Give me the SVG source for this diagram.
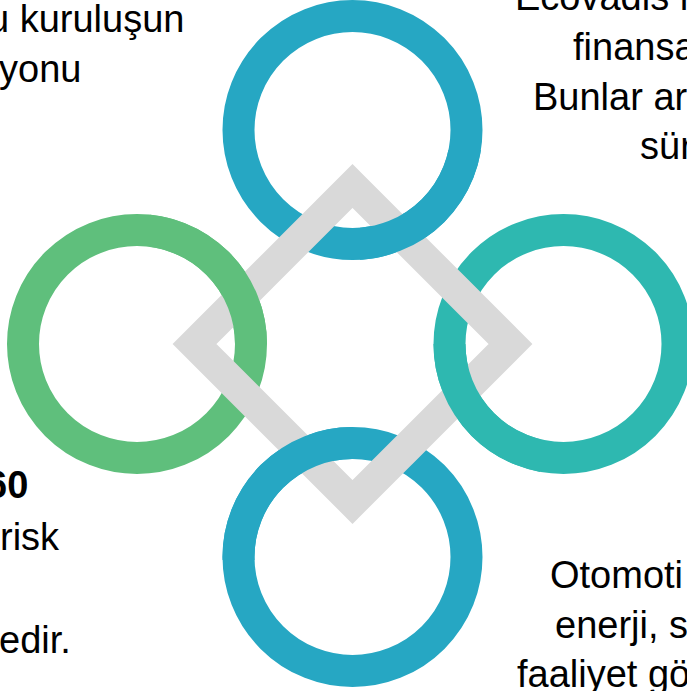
<svg xmlns="http://www.w3.org/2000/svg" xmlns:xlink="http://www.w3.org/1999/xlink" width="687" height="691" viewBox="0 0 687 691">
  <style>
    .ring { fill: none; stroke-width: 32; }
    .blue { stroke: #26A7C3; }
    .green { stroke: #5FBF7C; }
    .teal { stroke: #2EB8B0; }
    .diamond { fill: none; stroke: #D9D9D9; stroke-width: 31; stroke-linejoin: miter; stroke-miterlimit: 10; }
    .txt { font-family: "Liberation Sans", Arial, sans-serif; font-size: 38px; fill: #000000; }
    .bold { font-weight: bold; }
  </style>
  <defs>
    <clipPath id="clip-top"><rect x="360" y="150" width="140" height="130"/></clipPath>
    <clipPath id="clip-left"><rect x="150" y="200" width="150" height="144"/></clipPath>
    <clipPath id="clip-right"><rect x="400" y="344" width="140" height="136"/></clipPath>
    <clipPath id="clip-bottom"><rect x="200" y="400" width="152" height="160"/></clipPath>
  </defs>

  <g id="ring-top"><circle id="c-top" class="ring blue" cx="352.5" cy="130" r="114"/></g>
  <g id="ring-left"><circle id="c-left" class="ring green" cx="137" cy="344" r="114"/></g>
  <g id="ring-right"><circle id="c-right" class="ring teal" cx="563.5" cy="344" r="114"/></g>
  <g id="ring-bottom"><circle id="c-bottom" class="ring blue" cx="352.5" cy="557" r="114"/></g>

  <g id="diamond">
    <polygon class="diamond" points="352.5,186 510.5,344 352.5,502 194.5,344"/>
  </g>

  <g id="weave">
    <use xlink:href="#c-top" clip-path="url(#clip-top)"/>
    <use xlink:href="#c-left" clip-path="url(#clip-left)"/>
    <use xlink:href="#c-right" clip-path="url(#clip-right)"/>
    <use xlink:href="#c-bottom" clip-path="url(#clip-bottom)"/>
  </g>

  <g id="text-top-left" class="txt">
    <text x="-12" y="32">u kuruluşun</text>
    <text x="-1" y="82">yonu</text>
  </g>
  <g id="text-top-right" class="txt">
    <text x="515" y="10">Ecovadis n</text>
    <text x="573" y="60">finansa</text>
    <text x="533" y="110">Bunlar ar</text>
    <text x="640" y="159">sür</text>
  </g>
  <g id="text-bottom-left" class="txt">
    <text class="bold" x="-14" y="498">60</text>
    <text x="0" y="550">risk</text>
    <text x="-1" y="653">edir.</text>
  </g>
  <g id="text-bottom-right" class="txt">
    <text x="550" y="588">Otomoti</text>
    <text x="555" y="638">enerji, s</text>
    <text x="517" y="687">faaliyet gö</text>
  </g>
</svg>
